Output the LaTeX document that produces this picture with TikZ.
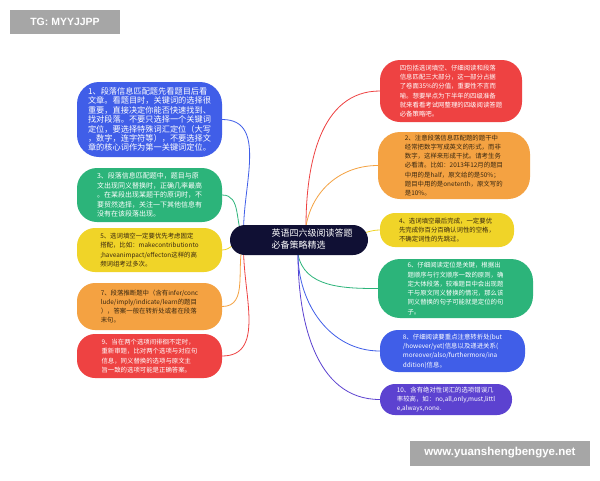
\documentclass[tikz,border=0pt]{standalone}
\usepackage{fontspec}
\setmainfont{Noto Sans CJK SC}
\newfontfamily\tagfont{Liberation Sans}
\usetikzlibrary{backgrounds}

\definecolor{hubnavy}{RGB}{16,16,52}
\definecolor{bubblue}{RGB}{64,94,232}
\definecolor{bubgreen}{RGB}{44,180,122}
\definecolor{bubyellow}{RGB}{240,212,40}
\definecolor{buborange}{RGB}{244,162,66}
\definecolor{bubred}{RGB}{238,66,66}
\definecolor{bubpurple}{RGB}{92,66,208}
\definecolor{inkdark}{RGB}{58,40,16}
\definecolor{taggray}{RGB}{166,166,166}

\tikzset{
  bubble/.style={rounded corners=15pt, align=left, inner sep=0pt, text=white},
  small/.style={font=\fontsize{6.4}{9.3}\selectfont},
  link/.style={line width=0.8pt},
  tagbox/.style={fill=taggray, text=white, inner sep=0pt}
}

\begin{document}
\begin{tikzpicture}[x=1pt,y=-1pt]
        \useasboundingbox (0,0) rectangle (600,480);
        % centre
        \node[fill=hubnavy, rounded corners=15pt, minimum width=138pt, minimum height=30pt, text=white, inner sep=0pt, font=\fontsize{9}{12}\selectfont] (hub) at (299,240)
            {\hspace*{26pt}\begin{tabular}{@{}l@{}}英语四六级阅读答题\\必备策略精选\end{tabular}};
        \coordinate (hubL) at (244,240);
        \coordinate (hubT) at (306,226);
        \coordinate (hubR) at (355,234);
        \coordinate (hubB) at (298,254);

        % left side
        \node[bubble, fill=bubblue, minimum width=145pt, minimum height=75pt, rounded corners=22pt, font=\fontsize{8.2}{9.4}\selectfont] (b1) at (149.5,119.5)
            {1、段落信息匹配题先看题目后看\\文章。看题目时，关键词的选择很\\重要，直接决定你能否快速找到、\\找对段落。不要只选择一个关键词\\定位，要选择特殊词汇定位（大写\\，数字，连字符等），不要选择文\\章的核心词作为第一关键词定位。};
        \node[bubble, fill=bubgreen, minimum width=145pt, minimum height=54pt, rounded corners=20pt, font=\fontsize{7}{9.5}\selectfont] (b3) at (149.5,195)
            {3、段落信息匹配题中，题目与原\\文出现同义替换时，正确几率最高\\。在某段出现某题干的原词时，不\\要贸然选择，关注一下其他信息有\\没有在该段落出现。};
        \node[bubble, small, fill=bubyellow, text=inkdark, minimum width=145pt, minimum height=44pt, rounded corners=18pt] (b5) at (149.5,250)
            {5、选词填空一定要优先考虑固定\\搭配，比如：makecontributionto\\;haveanimpact/effecton这样的高\\频词组考过多次。};
        \node[bubble, small, fill=buborange, text=inkdark, minimum width=145pt, minimum height=47pt, rounded corners=18pt] (b7) at (149.5,306.5)
            {7、段落推断题中（含有infer/conc\\lude/imply/indicate/learn的题目\\），答案一般在转折处或者在段落\\末句。};
        \node[bubble, small, fill=bubred, minimum width=145pt, minimum height=44pt, rounded corners=18pt] (b9) at (149.5,356)
            {9、当在两个选项间徘徊不定时，\\重新审题，比对两个选项与对应句\\信息，同义替换的选项与原文主\\旨一致的选项可能是正确答案。};

        % right side
        \node[bubble, small, fill=bubred, minimum width=142pt, minimum height=62pt, rounded corners=20pt] (r0) at (451,91)
            {四包括选词填空、仔细阅读和段落\\信息匹配三大部分，这一部分占据\\了卷面35\%的分值，重要性不言而\\喻。想要早点为下半年的四级准备\\就来看看考试网整理的四级阅读答题\\必备策略吧。};
        \node[bubble, small, fill=buborange, text=inkdark, minimum width=152pt, minimum height=67pt, rounded corners=22pt] (r2) at (454,165.5)
            {2、注意段落信息匹配题的题干中\\经常把数字写成英文的形式，而非\\数字，这样来形成干扰。请考生务\\必看清。比如：2013年12月的题目\\中用的是half，原文给的是50\%；\\题目中用的是onetenth，原文写的\\是10\%。};
        \node[bubble, small, fill=bubyellow, text=inkdark, minimum width=134pt, minimum height=34pt] (r4) at (447,230)
            {4、选词填空最后完成，一定要优\\先完成你百分百确认词性的空格，\\不确定词性的先跳过。};
        \node[bubble, small, fill=bubgreen, minimum width=155pt, minimum height=59pt, rounded corners=22pt] (r6) at (455.5,288.5)
            {6、仔细阅读定位是关键，根据出\\题顺序与行文顺序一致的原则，确\\定大体段落，较难题目中会出现题\\干与原文同义替换的情况，那么该\\同义替换的句子可能就是定位的句\\子。};
        \node[bubble, small, fill=bubblue, minimum width=145pt, minimum height=42pt, rounded corners=18pt] (r8) at (452.5,351)
            {8、仔细阅读要重点注意转折处(but\\/however/yet)信息以及递进关系(\\moreover/also/furthermore/ina\\ddition)信息。};
        \node[bubble, small, fill=bubpurple, minimum width=132pt, minimum height=31pt] (r10) at (446,399.5)
            {10、含有绝对性词汇的选项错误几\\率较高，如：no,all,only,must,littl\\e,always,none.};

        % tags
        \node[tagbox, minimum width=110pt, minimum height=24pt, font=\tagfont\bfseries\fontsize{10.5}{12}\selectfont] (tg) at (65,22) {TG: MYYJJPP};
        \node[tagbox, minimum width=180pt, minimum height=25pt, font=\tagfont\bfseries\fontsize{11.5}{13}\selectfont] (web) at (500,453) {www.yuanshengbengye.net};

        \begin{pgfonlayer}{background}
            \fill[white] (0,0) rectangle (600,480);
            \draw[link, bubblue] (b1.east) to[out=0, in=95] (hubL);
            \draw[link, bubgreen] (b3.east) to[out=0, in=120] (hubL);
            \draw[link, bubyellow] (b5.east) to[out=0, in=180] (hubL);
            \draw[link, buborange] (b7.east) to[out=0, in=-110] (hubL);
            \draw[link, bubred] (b9.east) to[out=0, in=-95] (hubL);
            \draw[link, bubred] (hubT) to[out=90, in=180] (r0.west);
            \draw[link, buborange] (hubT) to[out=80, in=180] (r2.west);
            \draw[link, bubyellow] (hubR) to[out=0, in=180] (r4.west);
            \draw[link, bubgreen] (hubB) to[out=-80, in=180] (r6.west);
            \draw[link, bubblue] (hubB) to[out=-90, in=180] (r8.west);
            \draw[link, bubpurple] (hubB) to[out=-90, in=180] (r10.west);
        \end{pgfonlayer}
\end{tikzpicture}
\end{document}
